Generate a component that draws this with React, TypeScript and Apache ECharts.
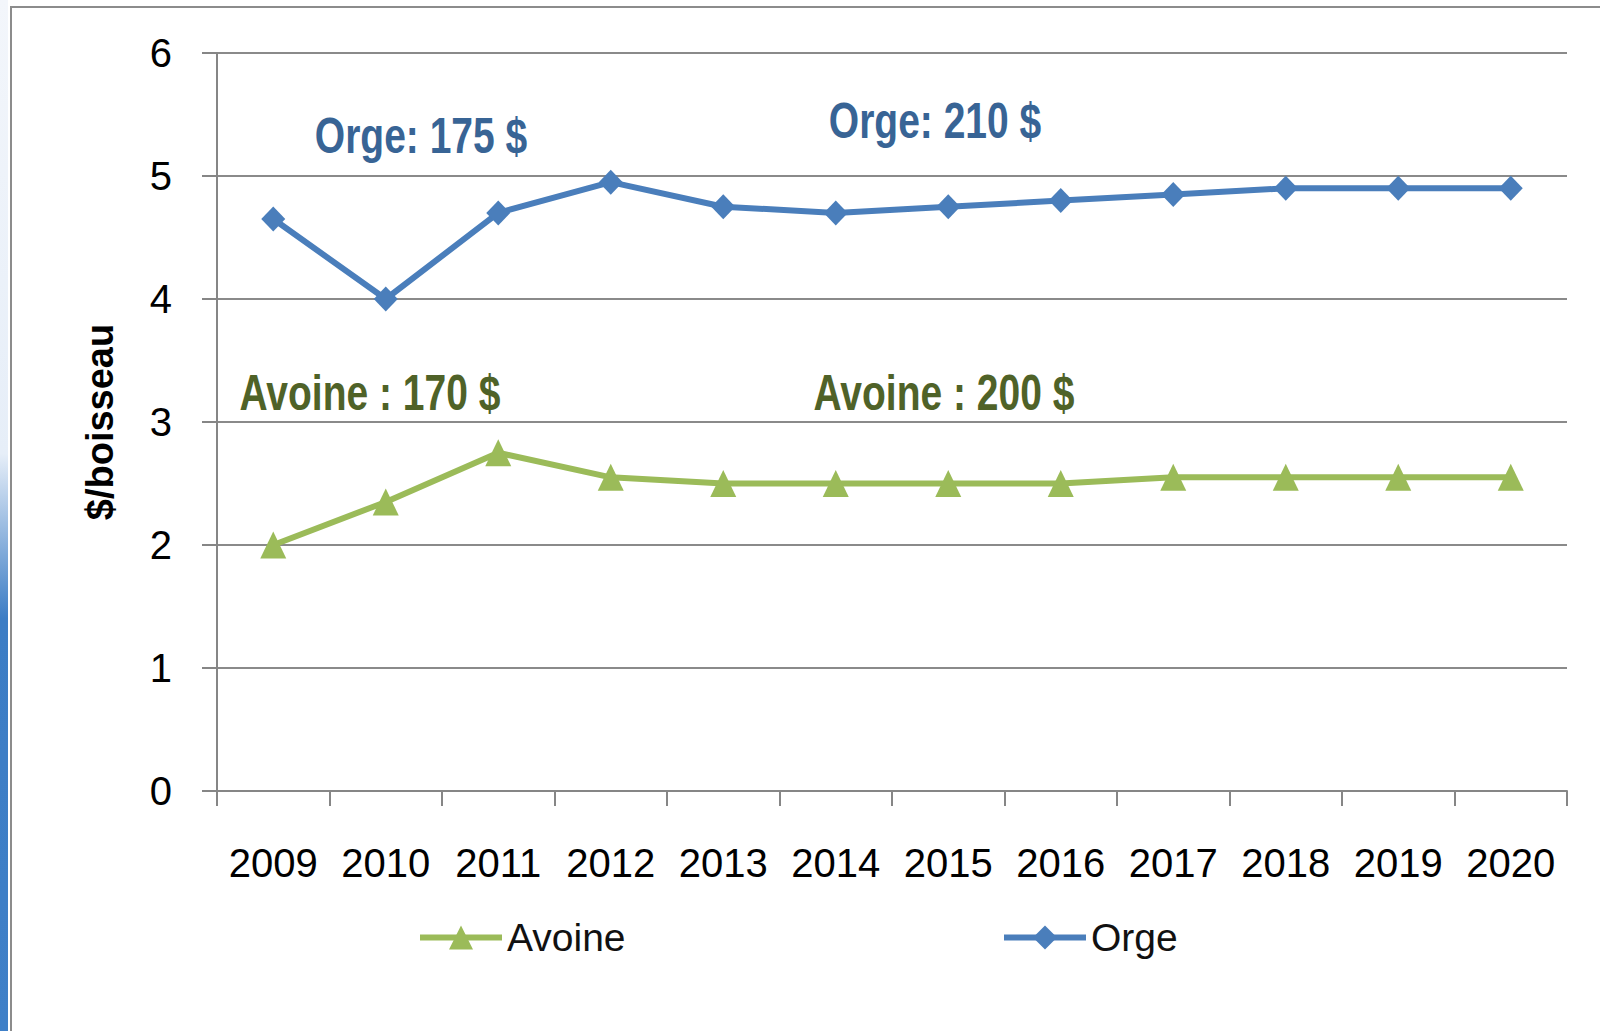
import React, { useEffect, useRef } from "react";
import * as echarts from "echarts";

const years = ["2009", "2010", "2011", "2012", "2013", "2014", "2015", "2016", "2017", "2018", "2019", "2020"];
const orge = [4.65, 4.0, 4.7, 4.95, 4.75, 4.7, 4.75, 4.8, 4.85, 4.9, 4.9, 4.9];
const avoine = [2.0, 2.35, 2.75, 2.55, 2.5, 2.5, 2.5, 2.5, 2.55, 2.55, 2.55, 2.55];
const annotations = [
  { text: "Orge: 175 $", x: 421, y: 136, color: "#386495" },
  { text: "Orge: 210 $", x: 935, y: 121, color: "#386495" },
  { text: "Avoine : 170 $", x: 370, y: 393, color: "#4f6228" },
  { text: "Avoine : 200 $", x: 944, y: 393, color: "#4f6228" },
];

const SANS = "'Liberation Sans', Arial, sans-serif";

export default function App() {
  const ref = useRef<HTMLDivElement>(null);
  useEffect(() => {
    document.body.style.margin = "0";
    const chart = echarts.init(ref.current!, null, { renderer: "svg" });
    chart.setOption({
      animation: false,
      backgroundColor: "#ffffff",
      grid: { left: 217, right: 33, top: 53, bottom: 240 },
      xAxis: {
        type: "category",
        data: years,
        boundaryGap: true,
        axisLine: { lineStyle: { color: "#868686", width: 2 } },
        axisTick: { show: true, length: 15, lineStyle: { color: "#868686", width: 2 } },
        axisLabel: { interval: 0, fontFamily: SANS, fontSize: 40, color: "#000", margin: 52 },
      },
      yAxis: {
        type: "value",
        min: 0,
        max: 6,
        interval: 1,
        name: "$/boisseau",
        nameLocation: "middle",
        nameGap: 98,
        nameRotate: 90,
        nameTextStyle: { fontFamily: SANS, fontWeight: "bold", fontSize: 38, color: "#000" },
        axisLine: { show: true, lineStyle: { color: "#868686", width: 2 } },
        axisTick: { show: true, length: 15, lineStyle: { color: "#868686", width: 2 } },
        axisLabel: { fontFamily: SANS, fontSize: 40, color: "#000", margin: 45 },
        splitLine: { lineStyle: { color: "#8a8a8a", width: 2 } },
      },
      legend: [
        {
          data: ["Avoine"],
          left: 412,
          top: 913,
          itemWidth: 82,
          itemHeight: 30,
          lineStyle: { width: 6 },
          textStyle: { fontFamily: SANS, fontSize: 39, color: "#111" },
        },
        {
          data: ["Orge"],
          left: 996,
          top: 913,
          itemWidth: 82,
          itemHeight: 30,
          lineStyle: { width: 6 },
          textStyle: { fontFamily: SANS, fontSize: 39, color: "#111" },
        },
      ],
      series: [
        {
          name: "Avoine",
          type: "line",
          data: avoine,
          symbol: "triangle",
          symbolSize: [26, 27],
          lineStyle: { color: "#9bbb59", width: 6 },
          itemStyle: { color: "#9bbb59" },
        },
        {
          name: "Orge",
          type: "line",
          data: orge,
          symbol: "diamond",
          symbolSize: [24, 25],
          lineStyle: { color: "#4a7ebb", width: 6 },
          itemStyle: { color: "#4a7ebb" },
        },
      ],
      graphic: [
        {
          type: "rect",
          shape: { x: 0, y: 0, width: 8, height: 1031 },
          style: {
            fill: new echarts.graphic.LinearGradient(0, 0, 0, 1, [
              { offset: 0, color: "#f3f6fb" },
              { offset: 0.44, color: "#e6eef8" },
              { offset: 0.6, color: "#3c7dc5" },
              { offset: 1, color: "#3f80c8" },
            ]),
          },
          silent: true,
        },
        {
          type: "rect",
          shape: { x: 11, y: 7, width: 1620, height: 1060 },
          style: { fill: "none", stroke: "#8c8c8c", lineWidth: 2 },
          silent: true,
        },
        ...annotations.map((a) => ({
          type: "text",
          x: a.x,
          y: a.y,
          scaleY: 1.3,
          style: {
            text: a.text,
            fill: a.color,
            font: `bold 39px ${SANS}`,
            align: "center",
            verticalAlign: "middle",
          },
          silent: true,
        })),
      ],
    });
    return () => chart.dispose();
  }, []);
  return <div ref={ref} style={{ position: "absolute", left: 0, top: 0, width: 1600, height: 1031 }} />;
}
